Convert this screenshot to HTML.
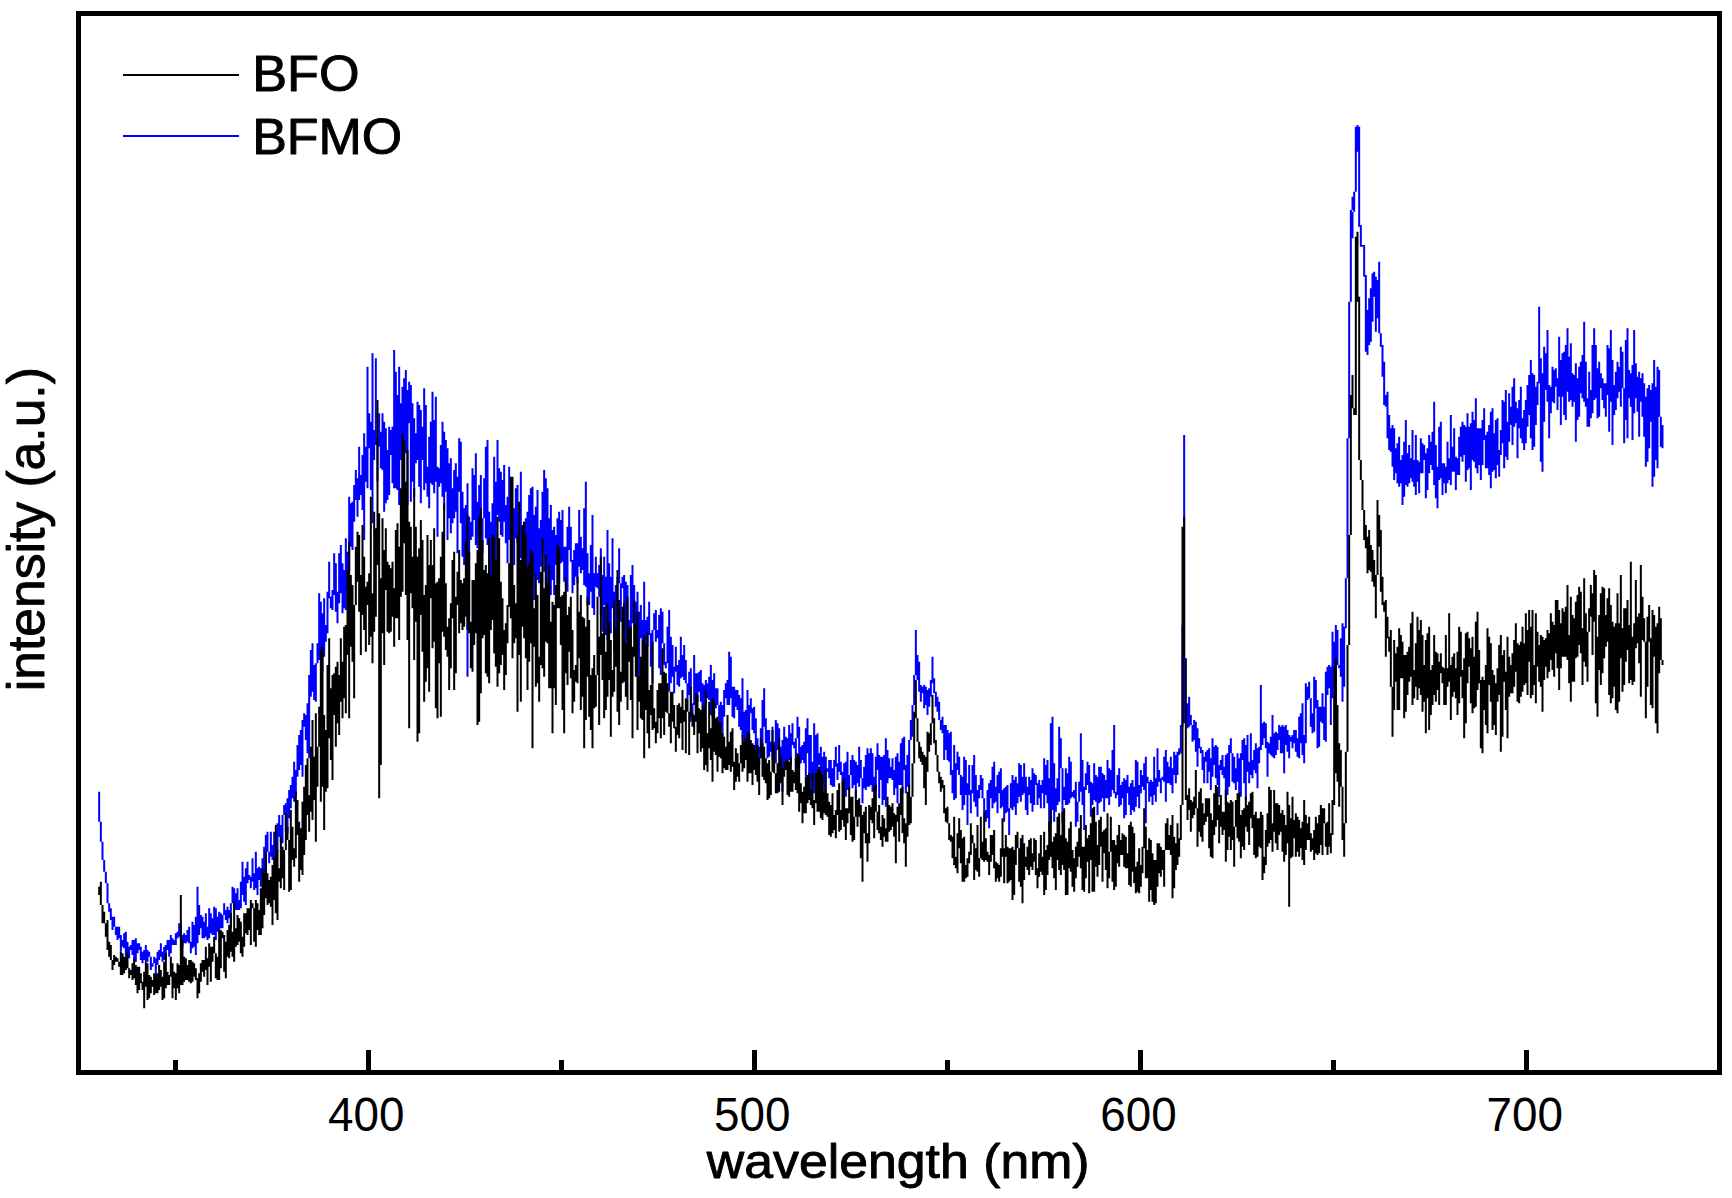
<!DOCTYPE html>
<html lang="en">
<head>
<meta charset="utf-8">
<title>PL spectra BFO / BFMO</title>
<style>
html,body{margin:0;padding:0;background:#fff;overflow:hidden;}
svg{display:block;}
text{font-family:"Liberation Sans",sans-serif;fill:#000;}
</style>
</head>
<body>
<svg width="1732" height="1198" viewBox="0 0 1732 1198">
<rect width="1732" height="1198" fill="#fff"/>
<g fill="none" stroke-width="2" stroke-linecap="butt">
<path stroke="#0000ff" d="M99.17 791.7V821.7M100.83 821.7V841.7M102.50 841.7V860.0M104.17 860.0V871.7M105.83 871.7V883.3M107.50 883.3V903.3M109.17 903.3V911.7M110.83 908.3V920.0M112.50 916.7V930.0M114.17 916.7V926.7M115.83 926.7V935.0M117.50 926.7V940.0M119.17 926.7V938.3M120.83 935.0V951.7M122.50 940.0V946.7M124.17 933.3V948.3M125.83 931.7V956.7M127.50 941.7V958.3M129.17 946.7V958.3M130.83 945.0V950.0M132.50 940.0V955.0M134.17 940.0V960.0M135.83 938.3V961.7M137.50 943.3V953.3M139.17 943.3V950.0M140.83 946.7V960.0M142.50 951.7V963.3M144.17 950.0V960.0M145.83 945.0V961.7M147.50 950.0V961.7M149.17 951.7V956.7M150.83 956.7V970.0M152.50 963.3V966.7M154.17 956.7V963.3M155.83 958.3V975.0M157.50 951.7V965.0M159.17 950.0V960.0M160.83 943.3V956.7M162.50 951.7V961.7M164.17 946.7V960.0M165.83 945.0V958.3M167.50 940.0V950.0M169.17 940.0V956.7M170.83 935.0V953.3M172.50 938.3V945.0M174.17 940.0V945.0M175.83 933.3V945.0M177.50 931.7V938.3M179.17 923.3V936.7M180.83 923.3V940.0M182.50 935.0V946.7M184.17 933.3V943.3M185.83 935.0V943.3M187.50 930.0V941.7M189.17 926.7V943.3M190.83 941.7V953.3M192.50 921.7V948.3M194.17 925.0V946.7M195.83 916.7V955.0M197.50 886.7V943.3M199.17 905.0V935.0M200.83 915.0V928.3M202.50 916.7V938.3M204.17 921.7V938.3M205.83 913.3V936.7M207.50 926.7V940.0M209.17 908.3V938.3M210.83 913.3V933.3M212.50 918.3V935.0M214.17 906.7V935.0M215.83 908.3V940.0M217.50 916.7V931.7M219.17 911.7V933.3M220.83 913.3V928.3M222.50 915.0V928.3M224.17 903.3V915.0M225.83 910.0V920.0M227.50 906.7V923.3M229.17 910.0V918.3M230.83 903.3V928.3M232.50 886.7V903.3M234.17 888.3V910.0M235.83 893.3V910.0M237.50 888.3V910.0M239.17 900.0V910.0M240.83 881.7V908.3M242.50 861.7V895.0M244.17 876.7V901.7M245.83 868.3V905.0M247.50 861.7V883.3M249.17 875.0V880.0M250.83 876.7V888.3M252.50 858.3V881.7M254.17 873.3V890.0M255.83 851.7V888.3M257.50 868.3V895.0M259.17 866.7V880.0M260.83 868.3V886.7M262.50 858.3V875.0M264.17 846.7V876.7M265.83 835.0V873.3M267.50 831.7V851.7M269.17 851.7V863.3M270.83 831.7V856.7M272.50 845.0V860.0M274.17 831.7V858.3M275.83 836.7V860.0M277.50 823.3V851.7M279.17 815.0V836.7M280.83 825.0V841.7M282.50 815.0V843.3M284.17 805.0V815.0M285.83 803.3V831.7M287.50 798.3V833.3M289.17 790.0V818.3M290.83 785.0V808.3M292.50 776.7V798.3M294.17 761.7V801.7M295.83 770.0V796.7M297.50 745.0V776.7M299.17 735.0V770.0M300.83 730.0V765.0M302.50 720.0V776.7M304.17 713.3V726.7M305.83 715.0V740.0M307.50 703.3V753.3M309.17 675.0V758.3M310.83 650.0V696.7M312.50 643.3V691.7M314.17 665.0V700.0M315.83 663.3V701.7M317.50 643.3V663.3M319.17 593.3V660.0M320.83 601.7V651.7M322.50 613.3V671.7M324.17 598.3V656.7M325.83 625.0V641.7M327.50 591.7V633.3M329.17 561.7V598.3M330.83 596.7V608.3M332.50 590.0V610.0M334.17 553.3V595.0M335.83 563.3V611.7M337.50 591.7V623.3M339.17 553.3V603.3M340.83 545.0V593.3M342.50 563.3V613.3M344.17 570.0V608.3M345.83 538.3V610.0M347.50 551.7V590.0M349.17 496.7V571.7M350.83 503.3V546.7M352.50 501.7V550.0M354.17 485.0V521.7M355.83 470.0V500.0M357.50 478.3V516.7M359.17 446.7V500.0M360.83 475.0V495.0M362.50 455.0V510.0M364.17 433.3V540.0M365.83 446.7V481.7M367.50 366.7V488.3M369.17 413.3V448.3M370.83 421.7V490.0M372.50 353.3V523.3M374.17 430.0V460.0M375.83 358.3V445.0M377.50 438.3V481.7M379.17 413.3V446.7M380.83 431.7V468.3M382.50 413.3V470.0M384.17 421.7V511.7M385.83 428.3V503.3M387.50 450.0V500.0M389.17 426.7V495.0M390.83 430.0V455.0M392.50 426.7V483.3M394.17 350.0V488.3M395.83 371.7V488.3M397.50 395.0V490.0M399.17 366.7V505.0M400.83 403.3V460.0M402.50 386.7V491.7M404.17 378.3V488.3M405.83 370.0V453.3M407.50 390.0V505.0M409.17 381.7V423.3M410.83 385.0V501.7M412.50 403.3V481.7M414.17 418.3V496.7M415.83 433.3V463.3M417.50 401.7V460.0M419.17 405.0V486.7M420.83 410.0V503.3M422.50 426.7V460.0M424.17 388.3V490.0M425.83 405.0V483.3M427.50 466.7V496.7M429.17 436.7V508.3M430.83 421.7V483.3M432.50 391.7V485.0M434.17 420.0V493.3M435.83 396.7V481.7M437.50 466.7V536.7M439.17 468.3V486.7M440.83 445.0V483.3M442.50 421.7V496.7M444.17 431.7V510.0M445.83 440.0V491.7M447.50 448.3V540.0M449.17 463.3V518.3M450.83 458.3V533.3M452.50 488.3V523.3M454.17 470.0V518.3M455.83 463.3V511.7M457.50 476.7V553.3M459.17 438.3V491.7M460.83 441.7V523.3M462.50 491.7V556.7M464.17 508.3V565.0M465.83 505.0V545.0M467.50 483.3V676.7M469.17 516.7V615.0M470.83 521.7V540.0M472.50 468.3V536.7M474.17 475.0V520.0M475.83 453.3V545.0M477.50 501.7V548.3M479.17 485.0V535.0M480.83 475.0V538.3M482.50 518.3V553.3M484.17 478.3V518.3M485.83 446.7V538.3M487.50 440.0V545.0M489.17 511.7V576.7M490.83 521.7V581.7M492.50 503.3V595.0M494.17 456.7V586.7M495.83 481.7V570.0M497.50 440.0V515.0M499.17 468.3V521.7M500.83 471.7V535.0M502.50 480.0V536.7M504.17 465.0V521.7M505.83 505.0V543.3M507.50 496.7V563.3M509.17 466.7V540.0M510.83 525.0V568.3M512.50 511.7V538.3M514.17 508.3V565.0M515.83 488.3V538.3M517.50 485.0V543.3M519.17 511.7V550.0M520.83 471.7V558.3M522.50 526.7V581.7M524.17 521.7V588.3M525.83 518.3V615.0M527.50 511.7V581.7M529.17 495.0V591.7M530.83 488.3V573.3M532.50 486.7V576.7M534.17 515.0V600.0M535.83 506.7V576.7M537.50 490.0V580.0M539.17 528.3V583.3M540.83 520.0V566.7M542.50 491.7V553.3M544.17 470.0V571.7M545.83 478.3V593.3M547.50 488.3V596.7M549.17 518.3V598.3M550.83 505.0V595.0M552.50 530.0V580.0M554.17 526.7V595.0M555.83 535.0V565.0M557.50 518.3V601.7M559.17 511.7V583.3M560.83 520.0V563.3M562.50 510.0V561.7M564.17 546.7V581.7M565.83 546.7V586.7M567.50 526.7V591.7M569.17 506.7V550.0M570.83 526.7V561.7M572.50 560.0V593.3M574.17 550.0V585.0M575.83 543.3V576.7M577.50 543.3V583.3M579.17 510.0V566.7M580.83 536.7V573.3M582.50 548.3V570.0M584.17 508.3V585.0M585.83 481.7V586.7M587.50 553.3V605.0M589.17 573.3V605.0M590.83 545.0V591.7M592.50 515.0V608.3M594.17 573.3V615.0M595.83 556.7V586.7M597.50 573.3V588.3M599.17 565.0V596.7M600.83 548.3V615.0M602.50 575.0V631.7M604.17 556.7V605.0M605.83 576.7V635.0M607.50 530.0V640.0M609.17 563.3V635.0M610.83 576.7V633.3M612.50 538.3V608.3M614.17 591.7V651.7M615.83 585.0V641.7M617.50 576.7V626.7M619.17 548.3V583.3M620.83 583.3V621.7M622.50 576.7V588.3M624.17 575.0V626.7M625.83 581.7V645.0M627.50 585.0V640.0M629.17 620.0V648.3M630.83 575.0V651.7M632.50 565.0V623.3M634.17 585.0V623.3M635.83 601.7V643.3M637.50 591.7V653.3M639.17 611.7V683.3M640.83 605.0V638.3M642.50 620.0V640.0M644.17 581.7V638.3M645.83 620.0V655.0M647.50 616.7V646.7M649.17 601.7V635.0M650.83 633.3V666.7M652.50 630.0V683.3M654.17 613.3V630.0M655.83 610.0V641.7M657.50 630.0V638.3M659.17 615.0V668.3M660.83 608.3V675.0M662.50 611.7V643.3M664.17 643.3V665.0M665.83 661.7V668.3M667.50 626.7V663.3M669.17 610.0V691.7M670.83 636.7V683.3M672.50 645.0V676.7M674.17 666.7V693.3M675.83 646.7V671.7M677.50 665.0V685.0M679.17 660.0V686.7M680.83 636.7V678.3M682.50 655.0V676.7M684.17 645.0V680.0M685.83 660.0V683.3M687.50 683.3V700.0M689.17 671.7V695.0M690.83 668.3V721.7M692.50 703.3V716.7M694.17 655.0V705.0M695.83 673.3V716.7M697.50 673.3V701.7M699.17 671.7V691.7M700.83 670.0V701.7M702.50 683.3V705.0M704.17 685.0V720.0M705.83 680.0V705.0M707.50 683.3V698.3M709.17 676.7V700.0M710.83 665.0V715.0M712.50 680.0V716.7M714.17 673.3V701.7M715.83 688.3V708.3M717.50 688.3V705.0M719.17 705.0V726.7M720.83 701.7V726.7M722.50 705.0V738.3M724.17 690.0V716.7M725.83 683.3V698.3M727.50 680.0V705.0M729.17 651.7V705.0M730.83 656.7V698.3M732.50 686.7V716.7M734.17 686.7V718.3M735.83 690.0V706.7M737.50 690.0V710.0M739.17 695.0V726.7M740.83 698.3V730.0M742.50 678.3V736.7M744.17 711.7V743.3M745.83 710.0V745.0M747.50 690.0V746.7M749.17 705.0V740.0M750.83 698.3V713.3M752.50 708.3V730.0M754.17 706.7V733.3M755.83 718.3V756.7M757.50 738.3V751.7M759.17 746.7V765.0M760.83 728.3V756.7M762.50 700.0V758.3M764.17 688.3V726.7M765.83 718.3V743.3M767.50 730.0V758.3M769.17 730.0V756.7M770.83 741.7V751.7M772.50 726.7V760.0M774.17 741.7V761.7M775.83 720.0V763.3M777.50 723.3V750.0M779.17 728.3V748.3M780.83 746.7V770.0M782.50 740.0V791.7M784.17 726.7V765.0M785.83 736.7V770.0M787.50 738.3V765.0M789.17 725.0V760.0M790.83 733.3V765.0M792.50 723.3V745.0M794.17 741.7V748.3M795.83 738.3V775.0M797.50 716.7V738.3M799.17 726.7V765.0M800.83 746.7V763.3M802.50 745.0V760.0M804.17 741.7V763.3M805.83 728.3V776.7M807.50 718.3V753.3M809.17 735.0V786.7M810.83 735.0V791.7M812.50 761.7V780.0M814.17 723.3V793.3M815.83 735.0V778.3M817.50 733.3V770.0M819.17 753.3V765.0M820.83 746.7V773.3M822.50 756.7V783.3M824.17 751.7V795.0M825.83 756.7V770.0M827.50 768.3V771.7M829.17 760.0V778.3M830.83 760.0V785.0M832.50 768.3V786.7M834.17 760.0V786.7M835.83 746.7V766.7M837.50 763.3V780.0M839.17 745.0V771.7M840.83 761.7V775.0M842.50 771.7V783.3M844.17 763.3V785.0M845.83 761.7V796.7M847.50 751.7V790.0M849.17 775.0V790.0M850.83 760.0V775.0M852.50 755.0V788.3M854.17 760.0V785.0M855.83 761.7V796.7M857.50 765.0V783.3M859.17 746.7V786.7M860.83 760.0V778.3M862.50 778.3V803.3M864.17 766.7V788.3M865.83 755.0V790.0M867.50 748.3V786.7M869.17 753.3V786.7M870.83 748.3V785.0M872.50 753.3V791.7M874.17 776.7V791.7M875.83 756.7V790.0M877.50 743.3V770.0M879.17 755.0V798.3M880.83 756.7V780.0M882.50 756.7V805.0M884.17 755.0V800.0M885.83 738.3V806.7M887.50 750.0V783.3M889.17 758.3V778.3M890.83 766.7V778.3M892.50 758.3V780.0M894.17 770.0V795.0M895.83 756.7V788.3M897.50 753.3V803.3M899.17 761.7V785.0M900.83 743.3V785.0M902.50 738.3V793.3M904.17 736.7V770.0M905.83 765.0V793.3M907.50 755.0V786.7M909.17 740.0V786.7M910.83 720.0V740.0M912.50 705.0V736.7M914.17 675.0V705.0M915.83 630.0V675.0M917.50 655.0V680.0M919.17 661.7V691.7M920.83 685.0V701.7M922.50 686.7V693.3M924.17 685.0V708.3M925.83 686.7V705.0M927.50 690.0V715.0M929.17 688.3V706.7M930.83 680.0V696.7M932.50 656.7V683.3M934.17 678.3V693.3M935.83 691.7V706.7M937.50 696.7V711.7M939.17 701.7V720.0M940.83 720.0V730.0M942.50 716.7V733.3M944.17 725.0V760.0M945.83 725.0V750.0M947.50 730.0V760.0M949.17 733.3V761.7M950.83 731.7V775.0M952.50 770.0V793.3M954.17 745.0V800.0M955.83 763.3V798.3M957.50 751.7V770.0M959.17 756.7V775.0M960.83 775.0V795.0M962.50 776.7V810.0M964.17 756.7V805.0M965.83 760.0V795.0M967.50 783.3V825.0M969.17 765.0V795.0M970.83 790.0V813.3M972.50 765.0V793.3M974.17 755.0V801.7M975.83 775.0V806.7M977.50 790.0V816.7M979.17 785.0V798.3M980.83 775.0V790.0M982.50 778.3V798.3M984.17 798.3V811.7M985.83 810.0V821.7M987.50 790.0V818.3M989.17 783.3V828.3M990.83 780.0V798.3M992.50 766.7V808.3M994.17 761.7V803.3M995.83 786.7V801.7M997.50 775.0V813.3M999.17 771.7V793.3M1000.83 768.3V808.3M1002.50 790.0V806.7M1004.17 788.3V821.7M1005.83 786.7V813.3M1007.50 785.0V811.7M1009.17 808.3V835.0M1010.83 783.3V808.3M1012.50 775.0V810.0M1014.17 780.0V806.7M1015.83 776.7V815.0M1017.50 783.3V803.3M1019.17 763.3V796.7M1020.83 765.0V801.7M1022.50 776.7V795.0M1024.17 763.3V793.3M1025.83 776.7V810.0M1027.50 786.7V815.0M1029.17 776.7V795.0M1030.83 780.0V803.3M1032.50 768.3V811.7M1034.17 773.3V805.0M1035.83 775.0V785.0M1037.50 783.3V805.0M1039.17 780.0V798.3M1040.83 785.0V808.3M1042.50 780.0V793.3M1044.17 758.3V808.3M1045.83 765.0V795.0M1047.50 760.0V803.3M1049.17 778.3V831.7M1050.83 723.3V823.3M1052.50 716.7V810.0M1054.17 763.3V821.7M1055.83 788.3V811.7M1057.50 778.3V805.0M1059.17 726.7V801.7M1060.83 738.3V768.3M1062.50 768.3V823.3M1064.17 786.7V800.0M1065.83 768.3V805.0M1067.50 773.3V805.0M1069.17 756.7V803.3M1070.83 761.7V798.3M1072.50 791.7V796.7M1074.17 790.0V798.3M1075.83 781.7V826.7M1077.50 801.7V821.7M1079.17 781.7V801.7M1080.83 733.3V791.7M1082.50 760.0V805.0M1084.17 786.7V830.0M1085.83 773.3V790.0M1087.50 761.7V785.0M1089.17 765.0V793.3M1090.83 781.7V816.7M1092.50 783.3V805.0M1094.17 763.3V800.0M1095.83 775.0V801.7M1097.50 776.7V815.0M1099.17 766.7V803.3M1100.83 766.7V801.7M1102.50 773.3V798.3M1104.17 775.0V811.7M1105.83 780.0V798.3M1107.50 760.0V798.3M1109.17 768.3V805.0M1110.83 770.0V796.7M1112.50 750.0V790.0M1114.17 725.0V793.3M1115.83 791.7V798.3M1117.50 775.0V795.0M1119.17 768.3V806.7M1120.83 785.0V805.0M1122.50 781.7V798.3M1124.17 778.3V818.3M1125.83 780.0V815.0M1127.50 775.0V793.3M1129.17 786.7V805.0M1130.83 783.3V815.0M1132.50 780.0V810.0M1134.17 786.7V811.7M1135.83 760.0V806.7M1137.50 761.7V796.7M1139.17 785.0V808.3M1140.83 770.0V793.3M1142.50 775.0V786.7M1144.17 763.3V790.0M1145.83 756.7V823.3M1147.50 776.7V783.3M1149.17 781.7V801.7M1150.83 780.0V796.7M1152.50 781.7V805.0M1154.17 756.7V795.0M1155.83 778.3V801.7M1157.50 748.3V786.7M1159.17 770.0V781.7M1160.83 778.3V793.3M1162.50 776.7V780.0M1164.17 756.7V781.7M1165.83 750.0V801.7M1167.50 761.7V783.3M1169.17 766.7V783.3M1170.83 756.7V785.0M1172.50 768.3V793.3M1174.17 751.7V775.0M1175.83 755.0V783.3M1177.50 751.7V775.0M1179.17 748.3V755.0M1180.83 725.0V753.3M1182.50 625.0V726.7M1184.17 435.0V723.3M1185.83 703.3V718.3M1187.50 703.3V728.3M1189.17 696.7V726.7M1190.83 715.0V725.0M1192.50 725.0V741.7M1194.17 720.0V740.0M1195.83 721.7V751.7M1197.50 728.3V766.7M1199.17 738.3V748.3M1200.83 746.7V753.3M1202.50 750.0V770.0M1204.17 756.7V783.3M1205.83 751.7V761.7M1207.50 750.0V783.3M1209.17 748.3V771.7M1210.83 758.3V790.0M1212.50 738.3V776.7M1214.17 746.7V765.0M1215.83 745.0V778.3M1217.50 746.7V785.0M1219.17 765.0V796.7M1220.83 760.0V770.0M1222.50 755.0V775.0M1224.17 766.7V778.3M1225.83 755.0V805.0M1227.50 753.3V795.0M1229.17 745.0V786.7M1230.83 738.3V753.3M1232.50 753.3V781.7M1234.17 756.7V783.3M1235.83 768.3V790.0M1237.50 753.3V781.7M1239.17 758.3V791.7M1240.83 753.3V796.7M1242.50 740.0V760.0M1244.17 738.3V783.3M1245.83 745.0V800.0M1247.50 735.0V771.7M1249.17 761.7V783.3M1250.83 733.3V775.0M1252.50 760.0V778.3M1254.17 750.0V770.0M1255.83 743.3V773.3M1257.50 748.3V788.3M1259.17 746.7V763.3M1260.83 685.0V750.0M1262.50 723.3V745.0M1264.17 721.7V738.3M1265.83 723.3V748.3M1267.50 741.7V776.7M1269.17 743.3V753.3M1270.83 736.7V755.0M1272.50 715.0V756.7M1274.17 733.3V758.3M1275.83 731.7V755.0M1277.50 733.3V750.0M1279.17 725.0V740.0M1280.83 726.7V753.3M1282.50 725.0V753.3M1284.17 726.7V773.3M1285.83 725.0V745.0M1287.50 730.0V751.7M1289.17 735.0V758.3M1290.83 736.7V741.7M1292.50 735.0V748.3M1294.17 730.0V743.3M1295.83 730.0V751.7M1297.50 738.3V756.7M1299.17 716.7V758.3M1300.83 713.3V743.3M1302.50 703.3V755.0M1304.17 735.0V763.3M1305.83 683.3V743.3M1307.50 686.7V700.0M1309.17 681.7V698.3M1310.83 698.3V726.7M1312.50 713.3V733.3M1314.17 676.7V731.7M1315.83 680.0V708.3M1317.50 700.0V748.3M1319.17 706.7V746.7M1320.83 706.7V721.7M1322.50 693.3V723.3M1324.17 706.7V740.0M1325.83 671.7V741.7M1327.50 666.7V695.0M1329.17 665.0V688.3M1330.83 666.7V725.0M1332.50 631.7V698.3M1334.17 641.7V673.3M1335.83 625.0V710.0M1337.50 630.0V665.0M1339.17 665.0V668.3M1340.83 638.3V676.7M1342.50 623.3V701.7M1344.17 626.7V686.7M1345.83 578.3V628.3M1347.50 438.3V578.3M1349.17 301.7V438.3M1350.83 210.0V301.7M1352.50 196.7V210.0M1352.50 211.7V238.3M1354.17 191.7V211.7M1355.83 126.7V191.7M1357.50 125.0V151.7M1359.17 126.7V226.7M1360.83 225.0V246.7M1362.50 245.0V246.7M1364.17 245.0V276.7M1365.83 275.0V351.7M1367.50 310.0V355.0M1369.17 298.3V345.0M1370.83 288.3V341.7M1372.50 273.3V321.7M1374.17 271.7V296.7M1375.83 276.7V331.7M1377.50 280.0V318.3M1379.17 261.7V333.3M1380.83 333.3V346.7M1382.50 345.0V376.7M1384.17 361.7V405.0M1385.83 395.0V406.7M1387.50 391.7V438.3M1389.17 415.0V450.0M1390.83 428.3V451.7M1392.50 425.0V466.7M1394.17 428.3V480.0M1395.83 448.3V473.3M1397.50 443.3V483.3M1399.17 436.7V486.7M1400.83 460.0V483.3M1402.50 455.0V505.0M1404.17 441.7V496.7M1405.83 420.0V485.0M1407.50 453.3V486.7M1409.17 445.0V483.3M1410.83 458.3V478.3M1412.50 430.0V481.7M1414.17 460.0V486.7M1415.83 435.0V495.0M1417.50 460.0V481.7M1419.17 461.7V493.3M1420.83 438.3V473.3M1422.50 443.3V473.3M1424.17 445.0V460.0M1425.83 453.3V498.3M1427.50 448.3V490.0M1429.17 435.0V473.3M1430.83 441.7V465.0M1432.50 431.7V470.0M1434.17 401.7V485.0M1435.83 445.0V498.3M1437.50 466.7V508.3M1439.17 426.7V480.0M1440.83 421.7V478.3M1442.50 463.3V495.0M1444.17 463.3V483.3M1445.83 466.7V493.3M1447.50 441.7V483.3M1449.17 458.3V480.0M1450.83 415.0V485.0M1452.50 446.7V471.7M1454.17 428.3V471.7M1455.83 456.7V490.0M1457.50 458.3V475.0M1459.17 436.7V475.0M1460.83 426.7V456.7M1462.50 421.7V461.7M1464.17 425.0V455.0M1465.83 426.7V481.7M1467.50 413.3V470.0M1469.17 426.7V468.3M1470.83 423.3V490.0M1472.50 411.7V460.0M1474.17 420.0V461.7M1475.83 398.3V468.3M1477.50 428.3V473.3M1479.17 428.3V465.0M1480.83 428.3V480.0M1482.50 420.0V465.0M1484.17 408.3V440.0M1485.83 435.0V468.3M1487.50 431.7V468.3M1489.17 425.0V475.0M1490.83 411.7V488.3M1492.50 408.3V471.7M1494.17 433.3V470.0M1495.83 420.0V478.3M1497.50 418.3V465.0M1499.17 450.0V476.7M1500.83 430.0V455.0M1502.50 400.0V443.3M1504.17 401.7V468.3M1505.83 390.0V456.7M1507.50 421.7V460.0M1509.17 393.3V441.7M1510.83 406.7V425.0M1512.50 386.7V445.0M1514.17 378.3V426.7M1515.83 401.7V423.3M1517.50 408.3V458.3M1519.17 400.0V428.3M1520.83 386.7V438.3M1522.50 418.3V443.3M1524.17 410.0V450.0M1525.83 400.0V443.3M1527.50 385.0V426.7M1529.17 375.0V415.0M1530.83 360.0V438.3M1532.50 373.3V450.0M1534.17 375.0V446.7M1535.83 386.7V425.0M1537.50 381.7V405.0M1539.17 306.7V383.3M1540.83 358.3V461.7M1542.50 373.3V471.7M1544.17 346.7V421.7M1545.83 353.3V390.0M1547.50 330.0V401.7M1549.17 385.0V438.3M1550.83 386.7V413.3M1552.50 366.7V401.7M1554.17 370.0V403.3M1555.83 368.3V386.7M1557.50 378.3V410.0M1559.17 336.7V396.7M1560.83 360.0V425.0M1562.50 353.3V396.7M1564.17 351.7V415.0M1565.83 345.0V420.0M1567.50 328.3V391.7M1569.17 356.7V401.7M1570.83 343.3V400.0M1572.50 373.3V406.7M1574.17 375.0V401.7M1575.83 363.3V441.7M1577.50 378.3V420.0M1579.17 366.7V416.7M1580.83 361.7V393.3M1582.50 355.0V398.3M1584.17 321.7V401.7M1585.83 361.7V406.7M1587.50 398.3V426.7M1589.17 371.7V426.7M1590.83 390.0V418.3M1592.50 345.0V413.3M1594.17 328.3V400.0M1595.83 345.0V398.3M1597.50 368.3V418.3M1599.17 361.7V416.7M1600.83 373.3V388.3M1602.50 378.3V400.0M1604.17 383.3V408.3M1605.83 383.3V416.7M1607.50 345.0V395.0M1609.17 348.3V431.7M1610.83 330.0V401.7M1612.50 360.0V445.0M1614.17 385.0V415.0M1615.83 371.7V410.0M1617.50 361.7V398.3M1619.17 366.7V391.7M1620.83 346.7V406.7M1622.50 351.7V388.3M1624.17 388.3V443.3M1625.83 340.0V420.0M1627.50 328.3V438.3M1629.17 370.0V398.3M1630.83 373.3V406.7M1632.50 365.0V440.0M1634.17 330.0V413.3M1635.83 363.3V398.3M1637.50 376.7V411.7M1639.17 371.7V436.7M1640.83 378.3V401.7M1642.50 373.3V416.7M1644.17 383.3V436.7M1645.83 396.7V466.7M1647.50 388.3V461.7M1649.17 385.0V448.3M1650.83 390.0V421.7M1652.50 383.3V486.7M1654.17 360.0V476.7M1655.83 386.7V460.0M1657.50 366.7V468.3M1659.17 370.0V416.7M1660.83 416.7V446.7M1662.50 425.0V448.3"/>
<path stroke="#000" d="M99.17 886.7V895.0M100.83 881.7V905.0M102.50 905.0V923.3M104.17 911.7V923.3M105.83 923.3V936.7M107.50 920.0V950.0M109.17 941.7V956.7M110.83 945.0V960.0M112.50 960.0V970.0M114.17 955.0V965.0M115.83 956.7V961.7M117.50 958.3V961.7M119.17 961.7V966.7M120.83 951.7V975.0M122.50 953.3V975.0M124.17 956.7V973.3M125.83 956.7V970.0M127.50 951.7V968.3M129.17 968.3V978.3M130.83 970.0V975.0M132.50 963.3V980.0M134.17 958.3V978.3M135.83 965.0V985.0M137.50 966.7V993.3M139.17 966.7V990.0M140.83 973.3V983.3M142.50 981.7V990.0M144.17 971.7V1008.3M145.83 961.7V986.7M147.50 963.3V1000.0M149.17 975.0V998.3M150.83 976.7V993.3M152.50 980.0V986.7M154.17 973.3V995.0M155.83 975.0V993.3M157.50 973.3V993.3M159.17 965.0V990.0M160.83 970.0V986.7M162.50 976.7V1000.0M164.17 961.7V998.3M165.83 953.3V988.3M167.50 971.7V985.0M169.17 975.0V985.0M170.83 956.7V976.7M172.50 963.3V998.3M174.17 971.7V988.3M175.83 973.3V1000.0M177.50 963.3V988.3M179.17 965.0V993.3M180.83 895.0V985.0M182.50 940.0V985.0M184.17 956.7V981.7M185.83 958.3V980.0M187.50 965.0V980.0M189.17 960.0V981.7M190.83 960.0V983.3M192.50 961.7V981.7M194.17 963.3V976.7M195.83 968.3V980.0M197.50 978.3V998.3M199.17 973.3V993.3M200.83 963.3V981.7M202.50 960.0V971.7M204.17 960.0V976.7M205.83 946.7V970.0M207.50 958.3V985.0M209.17 943.3V966.7M210.83 946.7V981.7M212.50 946.7V961.7M214.17 936.7V953.3M215.83 953.3V978.3M217.50 956.7V980.0M219.17 930.0V980.0M220.83 930.0V968.3M222.50 931.7V938.3M224.17 935.0V971.7M225.83 941.7V978.3M227.50 930.0V956.7M229.17 925.0V958.3M230.83 913.3V951.7M232.50 931.7V956.7M234.17 901.7V961.7M235.83 928.3V946.7M237.50 915.0V945.0M239.17 918.3V941.7M240.83 921.7V953.3M242.50 936.7V956.7M244.17 913.3V946.7M245.83 913.3V933.3M247.50 908.3V935.0M249.17 908.3V930.0M250.83 900.0V945.0M252.50 903.3V908.3M254.17 908.3V941.7M255.83 900.0V946.7M257.50 903.3V930.0M259.17 910.0V935.0M260.83 888.3V935.0M262.50 868.3V928.3M264.17 873.3V915.0M265.83 851.7V898.3M267.50 873.3V905.0M269.17 880.0V903.3M270.83 876.7V906.7M272.50 865.0V925.0M274.17 856.7V900.0M275.83 825.0V913.3M277.50 850.0V920.0M279.17 868.3V881.7M280.83 836.7V888.3M282.50 846.7V878.3M284.17 850.0V890.0M285.83 813.3V850.0M287.50 826.7V840.0M289.17 840.0V891.7M290.83 810.0V890.0M292.50 826.7V860.0M294.17 848.3V866.7M295.83 791.7V858.3M297.50 800.0V835.0M299.17 821.7V881.7M300.83 828.3V870.0M302.50 801.7V875.0M304.17 786.7V855.0M305.83 765.0V840.0M307.50 758.3V815.0M309.17 795.0V831.7M310.83 746.7V811.7M312.50 720.0V820.0M314.17 756.7V800.0M315.83 713.3V841.7M317.50 746.7V786.7M319.17 706.7V746.7M320.83 650.0V801.7M322.50 646.7V786.7M324.17 715.0V830.0M325.83 730.0V791.7M327.50 665.0V788.3M329.17 638.3V738.3M330.83 688.3V760.0M332.50 675.0V780.0M334.17 673.3V715.0M335.83 666.7V746.7M337.50 661.7V723.3M339.17 675.0V735.0M340.83 638.3V701.7M342.50 661.7V718.3M344.17 626.7V698.3M345.83 625.0V713.3M347.50 570.0V655.0M349.17 541.7V718.3M350.83 575.0V646.7M352.50 585.0V661.7M354.17 605.0V698.3M355.83 546.7V605.0M357.50 531.7V581.7M359.17 535.0V611.7M360.83 575.0V655.0M362.50 525.0V615.0M364.17 556.7V630.0M365.83 586.7V651.7M367.50 581.7V605.0M369.17 573.3V645.0M370.83 496.7V636.7M372.50 593.3V663.3M374.17 511.7V631.7M375.83 528.3V616.7M377.50 400.0V565.0M379.17 513.3V798.3M380.83 578.3V765.0M382.50 518.3V633.3M384.17 550.0V665.0M385.83 528.3V590.0M387.50 561.7V631.7M389.17 565.0V633.3M390.83 568.3V631.7M392.50 561.7V616.7M394.17 588.3V646.7M395.83 530.0V618.3M397.50 523.3V618.3M399.17 546.7V640.0M400.83 488.3V596.7M402.50 433.3V591.7M404.17 440.0V543.3M405.83 481.7V595.0M407.50 450.0V640.0M409.17 521.7V728.3M410.83 526.7V593.3M412.50 556.7V608.3M414.17 488.3V660.0M415.83 526.7V621.7M417.50 556.7V741.7M419.17 548.3V733.3M420.83 520.0V615.0M422.50 540.0V651.7M424.17 595.0V701.7M425.83 585.0V681.7M427.50 535.0V668.3M429.17 565.0V691.7M430.83 540.0V598.3M432.50 565.0V648.3M434.17 528.3V641.7M435.83 583.3V708.3M437.50 581.7V718.3M439.17 578.3V663.3M440.83 556.7V716.7M442.50 531.7V631.7M444.17 503.3V636.7M445.83 583.3V650.0M447.50 626.7V656.7M449.17 618.3V690.0M450.83 603.3V668.3M452.50 560.0V618.3M454.17 551.7V690.0M455.83 596.7V673.3M457.50 571.7V605.0M459.17 550.0V633.3M460.83 580.0V623.3M462.50 583.3V630.0M464.17 578.3V626.7M465.83 541.7V616.7M467.50 515.0V630.0M469.17 551.7V633.3M470.83 621.7V668.3M472.50 580.0V671.7M474.17 580.0V645.0M475.83 563.3V633.3M477.50 550.0V725.0M479.17 516.7V721.7M480.83 508.3V693.3M482.50 540.0V638.3M484.17 570.0V635.0M485.83 565.0V673.3M487.50 573.3V676.7M489.17 538.3V683.3M490.83 575.0V630.0M492.50 535.0V620.0M494.17 536.7V653.3M495.83 560.0V666.7M497.50 516.7V686.7M499.17 538.3V673.3M500.83 581.7V665.0M502.50 598.3V655.0M504.17 630.0V690.0M505.83 623.3V675.0M507.50 605.0V643.3M509.17 563.3V606.7M510.83 476.7V618.3M512.50 476.7V658.3M514.17 585.0V643.3M515.83 603.3V638.3M517.50 535.0V711.7M519.17 501.7V655.0M520.83 560.0V701.7M522.50 525.0V626.7M524.17 521.7V638.3M525.83 535.0V658.3M527.50 566.7V690.0M529.17 563.3V661.7M530.83 550.0V643.3M532.50 551.7V748.3M534.17 608.3V646.7M535.83 573.3V686.7M537.50 595.0V683.3M539.17 656.7V701.7M540.83 571.7V665.0M542.50 538.3V668.3M544.17 588.3V676.7M545.83 555.0V641.7M547.50 583.3V643.3M549.17 565.0V688.3M550.83 621.7V688.3M552.50 601.7V733.3M554.17 605.0V688.3M555.83 585.0V705.0M557.50 545.0V608.3M559.17 546.7V608.3M560.83 596.7V645.0M562.50 595.0V710.0M564.17 591.7V733.3M565.83 578.3V673.3M567.50 615.0V685.0M569.17 606.7V651.7M570.83 596.7V678.3M572.50 630.0V713.3M574.17 670.0V701.7M575.83 665.0V681.7M577.50 576.7V683.3M579.17 611.7V658.3M580.83 595.0V710.0M582.50 616.7V696.7M584.17 618.3V748.3M585.83 626.7V720.0M587.50 596.7V676.7M589.17 620.0V716.7M590.83 675.0V730.0M592.50 668.3V748.3M594.17 655.0V708.3M595.83 675.0V706.7M597.50 596.7V675.0M599.17 636.7V725.0M600.83 556.7V655.0M602.50 633.3V680.0M604.17 606.7V718.3M605.83 651.7V710.0M607.50 603.3V696.7M609.17 621.7V680.0M610.83 640.0V736.7M612.50 670.0V696.7M614.17 600.0V691.7M615.83 628.3V666.7M617.50 570.0V711.7M619.17 600.0V725.0M620.83 671.7V701.7M622.50 606.7V683.3M624.17 603.3V681.7M625.83 643.3V696.7M627.50 596.7V710.0M629.17 628.3V661.7M630.83 626.7V700.0M632.50 646.7V738.3M634.17 600.0V656.7M635.83 625.0V676.7M637.50 611.7V730.0M639.17 676.7V701.7M640.83 656.7V718.3M642.50 640.0V720.0M644.17 635.0V758.3M645.83 645.0V710.0M647.50 631.7V733.3M649.17 690.0V748.3M650.83 685.0V715.0M652.50 641.7V730.0M654.17 708.3V728.3M655.83 721.7V743.3M657.50 690.0V733.3M659.17 683.3V718.3M660.83 683.3V738.3M662.50 648.3V718.3M664.17 671.7V735.0M665.83 673.3V711.7M667.50 683.3V713.3M669.17 713.3V726.7M670.83 691.7V743.3M672.50 691.7V721.7M674.17 705.0V728.3M675.83 726.7V751.7M677.50 705.0V735.0M679.17 703.3V738.3M680.83 706.7V723.3M682.50 690.0V750.0M684.17 710.0V721.7M685.83 698.3V753.3M687.50 700.0V711.7M689.17 711.7V755.0M690.83 686.7V716.7M692.50 713.3V726.7M694.17 715.0V735.0M695.83 693.3V721.7M697.50 695.0V753.3M699.17 708.3V733.3M700.83 710.0V751.7M702.50 705.0V748.3M704.17 706.7V770.0M705.83 690.0V765.0M707.50 733.3V771.7M709.17 701.7V748.3M710.83 728.3V760.0M712.50 698.3V781.7M714.17 700.0V751.7M715.83 718.3V755.0M717.50 716.7V771.7M719.17 721.7V756.7M720.83 723.3V758.3M722.50 733.3V773.3M724.17 736.7V768.3M725.83 746.7V770.0M727.50 715.0V770.0M729.17 741.7V765.0M730.83 731.7V771.7M732.50 728.3V766.7M734.17 761.7V790.0M735.83 748.3V781.7M737.50 753.3V776.7M739.17 763.3V781.7M740.83 745.0V763.3M742.50 735.0V771.7M744.17 741.7V768.3M745.83 738.3V760.0M747.50 731.7V781.7M749.17 733.3V773.3M750.83 740.0V773.3M752.50 743.3V785.0M754.17 745.0V770.0M755.83 750.0V775.0M757.50 745.0V781.7M759.17 758.3V795.0M760.83 738.3V758.3M762.50 743.3V776.7M764.17 746.7V780.0M765.83 758.3V783.3M767.50 763.3V800.0M769.17 760.0V798.3M770.83 771.7V795.0M772.50 730.0V771.7M774.17 745.0V773.3M775.83 773.3V793.3M777.50 763.3V793.3M779.17 738.3V791.7M780.83 756.7V783.3M782.50 768.3V805.0M784.17 763.3V776.7M785.83 760.0V770.0M787.50 760.0V795.0M789.17 761.7V796.7M790.83 756.7V791.7M792.50 770.0V791.7M794.17 771.7V783.3M795.83 758.3V790.0M797.50 753.3V793.3M799.17 755.0V811.7M800.83 783.3V803.3M802.50 791.7V823.3M804.17 786.7V813.3M805.83 776.7V813.3M807.50 775.0V803.3M809.17 773.3V800.0M810.83 790.0V805.0M812.50 773.3V808.3M814.17 800.0V825.0M815.83 773.3V803.3M817.50 770.0V811.7M819.17 766.7V811.7M820.83 771.7V818.3M822.50 775.0V820.0M824.17 791.7V813.3M825.83 770.0V815.0M827.50 793.3V816.7M829.17 801.7V835.0M830.83 805.0V836.7M832.50 793.3V833.3M834.17 815.0V830.0M835.83 810.0V838.3M837.50 790.0V815.0M839.17 783.3V831.7M840.83 810.0V830.0M842.50 781.7V820.0M844.17 778.3V826.7M845.83 808.3V840.0M847.50 808.3V823.3M849.17 786.7V813.3M850.83 796.7V835.0M852.50 796.7V841.7M854.17 816.7V840.0M855.83 790.0V816.7M857.50 800.0V826.7M859.17 798.3V816.7M860.83 805.0V858.3M862.50 815.0V881.7M864.17 811.7V833.3M865.83 806.7V843.3M867.50 833.3V861.7M869.17 805.0V843.3M870.83 806.7V820.0M872.50 798.3V823.3M874.17 786.7V838.3M875.83 785.0V811.7M877.50 811.7V830.0M879.17 805.0V833.3M880.83 826.7V840.0M882.50 815.0V846.7M884.17 818.3V836.7M885.83 828.3V841.7M887.50 796.7V841.7M889.17 805.0V831.7M890.83 806.7V830.0M892.50 803.3V826.7M894.17 813.3V836.7M895.83 815.0V863.3M897.50 806.7V821.7M899.17 803.3V841.7M900.83 788.3V815.0M902.50 786.7V833.3M904.17 818.3V843.3M905.83 823.3V866.7M907.50 791.7V836.7M909.17 785.0V825.0M910.83 796.7V823.3M912.50 763.3V796.7M914.17 711.7V763.3M915.83 680.0V718.3M917.50 718.3V741.7M919.17 741.7V758.3M920.83 746.7V761.7M922.50 751.7V765.0M924.17 755.0V788.3M925.83 756.7V805.0M927.50 731.7V771.7M929.17 733.3V751.7M930.83 723.3V745.0M932.50 695.0V723.3M934.17 718.3V743.3M935.83 740.0V755.0M937.50 755.0V771.7M939.17 771.7V783.3M940.83 776.7V791.7M942.50 780.0V788.3M944.17 785.0V813.3M945.83 808.3V821.7M947.50 806.7V823.3M949.17 823.3V840.0M950.83 835.0V841.7M952.50 836.7V858.3M954.17 816.7V865.0M955.83 856.7V868.3M957.50 833.3V873.3M959.17 818.3V848.3M960.83 830.0V863.3M962.50 838.3V881.7M964.17 836.7V881.7M965.83 865.0V878.3M967.50 858.3V876.7M969.17 851.7V863.3M970.83 823.3V855.0M972.50 835.0V843.3M974.17 843.3V880.0M975.83 848.3V870.0M977.50 825.0V871.7M979.17 858.3V876.7M980.83 816.7V858.3M982.50 841.7V860.0M984.17 811.7V861.7M985.83 838.3V860.0M987.50 851.7V861.7M989.17 855.0V875.0M990.83 835.0V861.7M992.50 835.0V855.0M994.17 830.0V868.3M995.83 861.7V881.7M997.50 863.3V878.3M999.17 865.0V881.7M1000.83 848.3V876.7M1002.50 818.3V856.7M1004.17 848.3V883.3M1005.83 835.0V856.7M1007.50 846.7V883.3M1009.17 848.3V881.7M1010.83 848.3V880.0M1012.50 846.7V900.0M1014.17 850.0V895.0M1015.83 835.0V865.0M1017.50 831.7V848.3M1019.17 848.3V881.7M1020.83 838.3V886.7M1022.50 835.0V903.3M1024.17 843.3V880.0M1025.83 856.7V866.7M1027.50 846.7V870.0M1029.17 840.0V875.0M1030.83 838.3V866.7M1032.50 853.3V870.0M1034.17 838.3V861.7M1035.83 840.0V875.0M1037.50 868.3V888.3M1039.17 853.3V876.7M1040.83 835.0V871.7M1042.50 856.7V875.0M1044.17 831.7V895.0M1045.83 850.0V890.0M1047.50 845.0V875.0M1049.17 821.7V860.0M1050.83 810.0V856.7M1052.50 841.7V868.3M1054.17 836.7V878.3M1055.83 833.3V890.0M1057.50 816.7V860.0M1059.17 813.3V870.0M1060.83 835.0V875.0M1062.50 811.7V865.0M1064.17 808.3V870.0M1065.83 838.3V895.0M1067.50 841.7V895.0M1069.17 828.3V868.3M1070.83 821.7V871.7M1072.50 850.0V886.7M1074.17 858.3V891.7M1075.83 846.7V878.3M1077.50 841.7V866.7M1079.17 828.3V856.7M1080.83 815.0V868.3M1082.50 846.7V890.0M1084.17 846.7V891.7M1085.83 825.0V878.3M1087.50 838.3V861.7M1089.17 835.0V893.3M1090.83 823.3V860.0M1092.50 808.3V891.7M1094.17 806.7V891.7M1095.83 821.7V866.7M1097.50 845.0V876.7M1099.17 820.0V865.0M1100.83 816.7V846.7M1102.50 831.7V881.7M1104.17 830.0V853.3M1105.83 828.3V870.0M1107.50 813.3V888.3M1109.17 851.7V878.3M1110.83 816.7V851.7M1112.50 840.0V881.7M1114.17 840.0V890.0M1115.83 845.0V886.7M1117.50 835.0V863.3M1119.17 825.0V866.7M1120.83 840.0V855.0M1122.50 833.3V855.0M1124.17 835.0V866.7M1125.83 836.7V868.3M1127.50 853.3V868.3M1129.17 825.0V885.0M1130.83 821.7V886.7M1132.50 826.7V871.7M1134.17 833.3V883.3M1135.83 866.7V893.3M1137.50 861.7V891.7M1139.17 848.3V893.3M1140.83 865.0V886.7M1142.50 846.7V873.3M1144.17 808.3V848.3M1145.83 826.7V878.3M1147.50 850.0V878.3M1149.17 838.3V901.7M1150.83 840.0V890.0M1152.50 853.3V901.7M1154.17 860.0V905.0M1155.83 860.0V903.3M1157.50 843.3V886.7M1159.17 843.3V873.3M1160.83 846.7V876.7M1162.50 850.0V870.0M1164.17 850.0V886.7M1165.83 823.3V850.0M1167.50 818.3V850.0M1169.17 835.0V850.0M1170.83 825.0V855.0M1172.50 815.0V898.3M1174.17 836.7V888.3M1175.83 843.3V870.0M1177.50 823.3V865.0M1179.17 838.3V856.7M1180.83 805.0V840.0M1182.50 526.7V805.0M1184.17 516.7V658.3M1185.83 658.3V800.0M1187.50 795.0V820.0M1189.17 788.3V810.0M1190.83 800.0V831.7M1192.50 801.7V818.3M1194.17 796.7V815.0M1195.83 770.0V808.3M1197.50 808.3V846.7M1199.17 791.7V831.7M1200.83 788.3V836.7M1202.50 803.3V841.7M1204.17 813.3V825.0M1205.83 798.3V821.7M1207.50 798.3V816.7M1209.17 798.3V848.3M1210.83 813.3V856.7M1212.50 820.0V858.3M1214.17 793.3V835.0M1215.83 785.0V826.7M1217.50 786.7V820.0M1219.17 805.0V843.3M1220.83 795.0V826.7M1222.50 811.7V835.0M1224.17 811.7V830.0M1225.83 790.0V861.7M1227.50 801.7V850.0M1229.17 803.3V836.7M1230.83 800.0V850.0M1232.50 801.7V840.0M1234.17 826.7V866.7M1235.83 800.0V826.7M1237.50 793.3V838.3M1239.17 791.7V841.7M1240.83 815.0V858.3M1242.50 810.0V846.7M1244.17 808.3V850.0M1245.83 796.7V826.7M1247.50 805.0V831.7M1249.17 801.7V845.0M1250.83 793.3V818.3M1252.50 791.7V828.3M1254.17 815.0V855.0M1255.83 811.7V858.3M1257.50 818.3V856.7M1259.17 818.3V846.7M1260.83 811.7V848.3M1262.50 815.0V880.0M1264.17 856.7V873.3M1265.83 830.0V865.0M1267.50 813.3V846.7M1269.17 786.7V843.3M1270.83 790.0V840.0M1272.50 823.3V851.7M1274.17 790.0V831.7M1275.83 803.3V843.3M1277.50 803.3V850.0M1279.17 805.0V835.0M1280.83 813.3V831.7M1282.50 810.0V851.7M1284.17 815.0V861.7M1285.83 825.0V855.0M1287.50 791.7V843.3M1289.17 805.0V906.7M1290.83 818.3V858.3M1292.50 796.7V856.7M1294.17 820.0V838.3M1295.83 813.3V856.7M1297.50 816.7V851.7M1299.17 820.0V856.7M1300.83 828.3V848.3M1302.50 821.7V860.0M1304.17 800.0V865.0M1305.83 815.0V850.0M1307.50 823.3V840.0M1309.17 816.7V840.0M1310.83 833.3V851.7M1312.50 838.3V850.0M1314.17 830.0V860.0M1315.83 816.7V853.3M1317.50 823.3V855.0M1319.17 815.0V853.3M1320.83 805.0V845.0M1322.50 808.3V855.0M1324.17 808.3V823.3M1325.83 823.3V846.7M1327.50 821.7V855.0M1329.17 803.3V846.7M1330.83 833.3V853.3M1332.50 800.0V835.0M1334.17 666.7V805.0M1335.83 658.3V773.3M1337.50 705.0V781.7M1339.17 743.3V806.7M1340.83 750.0V786.7M1342.50 786.7V840.0M1344.17 823.3V856.7M1345.83 751.7V823.3M1347.50 645.0V751.7M1349.17 535.0V645.0M1350.83 395.0V535.0M1352.50 375.0V408.3M1354.17 408.3V415.0M1355.83 236.7V415.0M1357.50 231.7V301.7M1359.17 296.7V460.0M1360.83 460.0V480.0M1362.50 480.0V510.0M1364.17 510.0V540.0M1365.83 525.0V548.3M1367.50 536.7V573.3M1369.17 530.0V570.0M1370.83 545.0V571.7M1372.50 550.0V581.7M1374.17 560.0V586.7M1375.83 575.0V618.3M1377.50 500.0V575.0M1379.17 515.0V546.7M1380.83 530.0V591.7M1382.50 576.7V605.0M1384.17 601.7V611.7M1385.83 600.0V656.7M1387.50 616.7V638.3M1389.17 636.7V651.7M1390.83 630.0V686.7M1392.50 686.7V736.7M1394.17 640.0V710.0M1395.83 653.3V681.7M1397.50 646.7V710.0M1399.17 628.3V710.0M1400.83 635.0V678.3M1402.50 641.7V678.3M1404.17 655.0V718.3M1405.83 655.0V711.7M1407.50 651.7V695.0M1409.17 646.7V681.7M1410.83 623.3V676.7M1412.50 611.7V705.0M1414.17 670.0V698.3M1415.83 643.3V686.7M1417.50 616.7V700.0M1419.17 630.0V688.3M1420.83 620.0V695.0M1422.50 635.0V711.7M1424.17 665.0V701.7M1425.83 640.0V733.3M1427.50 633.3V698.3M1429.17 626.7V730.0M1430.83 670.0V715.0M1432.50 665.0V705.0M1434.17 635.0V695.0M1435.83 651.7V701.7M1437.50 653.3V690.0M1439.17 661.7V705.0M1440.83 653.3V673.3M1442.50 666.7V683.3M1444.17 668.3V705.0M1445.83 635.0V705.0M1447.50 668.3V686.7M1449.17 613.3V681.7M1450.83 665.0V720.0M1452.50 656.7V696.7M1454.17 653.3V691.7M1455.83 668.3V698.3M1457.50 651.7V715.0M1459.17 626.7V703.3M1460.83 631.7V676.7M1462.50 670.0V698.3M1464.17 658.3V738.3M1465.83 633.3V723.3M1467.50 631.7V683.3M1469.17 638.3V666.7M1470.83 648.3V703.3M1472.50 636.7V713.3M1474.17 656.7V708.3M1475.83 621.7V706.7M1477.50 611.7V690.0M1479.17 650.0V683.3M1480.83 680.0V748.3M1482.50 676.7V753.3M1484.17 680.0V710.0M1485.83 665.0V725.0M1487.50 628.3V733.3M1489.17 636.7V685.0M1490.83 643.3V701.7M1492.50 670.0V730.0M1494.17 675.0V725.0M1495.83 683.3V735.0M1497.50 668.3V701.7M1499.17 645.0V695.0M1500.83 635.0V751.7M1502.50 655.0V736.7M1504.17 650.0V681.7M1505.83 671.7V710.0M1507.50 636.7V738.3M1509.17 656.7V696.7M1510.83 665.0V693.3M1512.50 653.3V693.3M1514.17 640.0V686.7M1515.83 623.3V671.7M1517.50 643.3V701.7M1519.17 645.0V703.3M1520.83 641.7V696.7M1522.50 626.7V691.7M1524.17 643.3V685.0M1525.83 613.3V683.3M1527.50 630.0V695.0M1529.17 610.0V661.7M1530.83 626.7V698.3M1532.50 610.0V695.0M1534.17 665.0V685.0M1535.83 613.3V703.3M1537.50 631.7V666.7M1539.17 645.0V681.7M1540.83 635.0V686.7M1542.50 636.7V711.7M1544.17 640.0V680.0M1545.83 638.3V666.7M1547.50 630.0V678.3M1549.17 633.3V671.7M1550.83 613.3V660.0M1552.50 621.7V670.0M1554.17 625.0V676.7M1555.83 600.0V653.3M1557.50 600.0V668.3M1559.17 610.0V690.0M1560.83 623.3V668.3M1562.50 608.3V656.7M1564.17 611.7V656.7M1565.83 606.7V656.7M1567.50 585.0V660.0M1569.17 635.0V683.3M1570.83 596.7V701.7M1572.50 615.0V681.7M1574.17 618.3V681.7M1575.83 601.7V658.3M1577.50 595.0V656.7M1579.17 586.7V645.0M1580.83 591.7V653.3M1582.50 628.3V685.0M1584.17 578.3V661.7M1585.83 613.3V666.7M1587.50 631.7V681.7M1589.17 608.3V631.7M1590.83 585.0V616.7M1592.50 593.3V655.0M1594.17 570.0V621.7M1595.83 575.0V703.3M1597.50 636.7V716.7M1599.17 615.0V670.0M1600.83 593.3V685.0M1602.50 586.7V673.3M1604.17 588.3V658.3M1605.83 615.0V646.7M1607.50 598.3V641.7M1609.17 588.3V695.0M1610.83 605.0V703.3M1612.50 621.7V698.3M1614.17 626.7V686.7M1615.83 623.3V710.0M1617.50 593.3V713.3M1619.17 623.3V701.7M1620.83 575.0V658.3M1622.50 628.3V691.7M1624.17 608.3V685.0M1625.83 608.3V661.7M1627.50 600.0V650.0M1629.17 625.0V683.3M1630.83 561.7V680.0M1632.50 636.7V685.0M1634.17 623.3V681.7M1635.83 580.0V648.3M1637.50 616.7V643.3M1639.17 613.3V663.3M1640.83 565.0V696.7M1642.50 596.7V640.0M1644.17 618.3V641.7M1645.83 641.7V718.3M1647.50 616.7V686.7M1649.17 605.0V641.7M1650.83 638.3V705.0M1652.50 610.0V708.3M1654.17 615.0V656.7M1655.83 626.7V723.3M1657.50 623.3V733.3M1659.17 606.7V673.3M1660.83 618.3V660.0M1662.50 660.0V665.0"/>
</g>
<g shape-rendering="crispEdges" fill="none">
<line x1="123" y1="75" x2="239" y2="75" stroke="#000" stroke-width="2.5"/>
<line x1="123" y1="136" x2="239" y2="136" stroke="#0000ff" stroke-width="2.5"/>
</g>
<g shape-rendering="crispEdges" fill="#000">
<rect x="76" y="11" width="1646" height="5"/>
<rect x="76" y="1070" width="1646" height="5"/>
<rect x="76" y="11" width="5" height="1064"/>
<rect x="1717" y="11" width="5" height="1064"/>
<rect x="173" y="1060" width="5" height="10"/><rect x="366" y="1050" width="5" height="20"/><rect x="559" y="1060" width="5" height="10"/><rect x="752" y="1050" width="5" height="20"/><rect x="945" y="1060" width="5" height="10"/><rect x="1138" y="1050" width="5" height="20"/><rect x="1331" y="1060" width="5" height="10"/><rect x="1524" y="1050" width="5" height="20"/>
</g>
<g>
<text transform="translate(366.2,1131) scale(0.967,1)" text-anchor="middle" font-size="47.4">400</text><text transform="translate(752.3,1131) scale(0.967,1)" text-anchor="middle" font-size="47.4">500</text><text transform="translate(1138.5,1131) scale(0.967,1)" text-anchor="middle" font-size="47.4">600</text><text transform="translate(1524.7,1131) scale(0.967,1)" text-anchor="middle" font-size="47.4">700</text>
</g>
<g stroke="#000" stroke-width="0.9" stroke-linejoin="round">
<text transform="translate(252.2,91) scale(1.058,1)" font-size="49.4">BFO</text>
<text transform="translate(252.2,154) scale(1.052,1)" font-size="49.4">BFMO</text>
<text transform="translate(898.2,1177.5) scale(1.079,1)" text-anchor="middle" font-size="48">wavelength (nm)</text>
<text transform="translate(43.7,529.2) rotate(-90) scale(0.993,1)" text-anchor="middle" font-size="52">intensity (a.u.)</text>
</g>
</svg>
</body>
</html>
